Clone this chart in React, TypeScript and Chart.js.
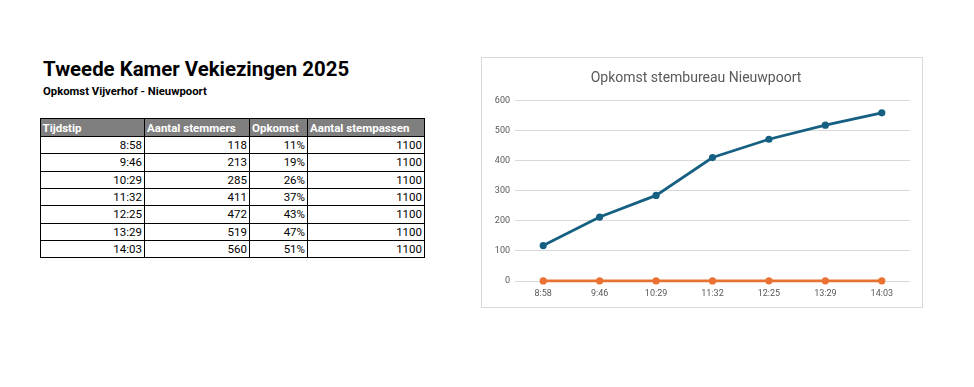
import React, { useEffect, useRef } from "react";
import { Chart, registerables } from "chart.js";

Chart.register(...registerables);

const times = ["8:58", "9:46", "10:29", "11:32", "12:25", "13:29", "14:03"];
const voters = [118, 213, 285, 411, 472, 519, 560];
const turnout = [0.11, 0.19, 0.26, 0.37, 0.43, 0.47, 0.51];
const passes = [1100, 1100, 1100, 1100, 1100, 1100, 1100];
const yTicks = [0, 100, 200, 300, 400, 500, 600];
const headers = ["Tijdstip", "Aantal stemmers", "Opkomst", "Aantal stempassen"];

const FONT = "Roboto, 'Liberation Sans', sans-serif";

function LineChart() {
  const ref = useRef<HTMLCanvasElement | null>(null);
  useEffect(() => {
    if (!ref.current) return;
    const chart = new Chart(ref.current, {
      type: "line",
      data: {
        labels: times,
        datasets: [
          {
            label: "Aantal stemmers",
            data: voters,
            borderColor: "#156082",
            backgroundColor: "#156082",
            borderWidth: 2.75,
            pointRadius: 3.6,
            pointBorderWidth: 0,
            pointHoverRadius: 3.6,
            tension: 0,
            clip: false,
          },
          {
            label: "Opkomst",
            data: turnout,
            borderColor: "#E97132",
            backgroundColor: "#E97132",
            borderWidth: 2.75,
            pointRadius: 3.6,
            pointBorderWidth: 0,
            pointHoverRadius: 3.6,
            tension: 0,
            clip: false,
          },
        ],
      },
      options: {
        animation: false,
        responsive: false,
        maintainAspectRatio: false,
        layout: { padding: { left: 0, right: 12, top: 0, bottom: 0 } },
        plugins: {
          legend: { display: false },
          tooltip: { enabled: false },
          title: {
            display: true,
            text: "Opkomst stembureau Nieuwpoort",
            color: "#595959",
            font: { family: FONT, size: 14, weight: "normal" },
            padding: { top: 12, bottom: 14 },
          },
        },
        scales: {
          x: {
            offset: true,
            grid: { display: false, drawTicks: false },
            border: { display: false },
            ticks: {
              color: "#595959",
              font: { family: FONT, size: 9 },
              padding: 7,
              maxRotation: 0,
              autoSkip: false,
            },
            afterFit: (s: any) => {
              s.height = 26;
            },
          },
          y: {
            min: 0,
            max: 600,
            afterBuildTicks: (s: any) => {
              s.ticks = yTicks.map((v) => ({ value: v }));
            },
            grid: { color: "#d9d9d9", drawTicks: false, lineWidth: 1 },
            border: { display: false },
            ticks: {
              color: "#595959",
              font: { family: FONT, size: 9 },
              padding: 5,
            },
            afterFit: (s: any) => {
              s.width = 33;
            },
          },
        },
      },
    });
    return () => chart.destroy();
  }, []);
  return <canvas ref={ref} width={440} height={249} style={{ display: "block" }} />;
}

export default function App() {
  const colW = [104.5, 105, 58, 117];
  const cell: React.CSSProperties = {
    border: "1px solid #000",
    padding: "0 2px",
    fontFamily: FONT,
    fontSize: 11.5,
    color: "#000",
    textAlign: "right",
    whiteSpace: "nowrap",
    overflow: "hidden",
  };
  const head: React.CSSProperties = {
    ...cell,
    background: "#7f7f7f",
    color: "#fff",
    fontWeight: 700,
    textAlign: "left",
  };
  return (
    <div
      style={{
        position: "fixed",
        left: 0,
        top: 0,
        width: 974,
        height: 387,
        background: "#fff",
        overflow: "hidden",
      }}
    >
      <div
        style={{
          position: "absolute",
          left: 43,
          top: 57,
          fontFamily: FONT,
          fontWeight: 700,
          fontSize: 20.4,
          color: "#000",
          whiteSpace: "nowrap",
        }}
      >
        Tweede Kamer Vekiezingen 2025
      </div>
      <div
        style={{
          position: "absolute",
          left: 43,
          top: 85,
          fontFamily: FONT,
          fontWeight: 700,
          fontSize: 11.3,
          color: "#000",
          whiteSpace: "nowrap",
        }}
      >
        Opkomst Vijverhof - Nieuwpoort
      </div>
      <table
        style={{
          position: "absolute",
          left: 39.5,
          top: 118,
          borderCollapse: "collapse",
          tableLayout: "fixed",
          width: colW.reduce((a, b) => a + b, 0),
          border: "1.5px solid #333",
        }}
      >
        <colgroup>
          {colW.map((w, i) => (
            <col key={i} style={{ width: w }} />
          ))}
        </colgroup>
        <tbody>
          <tr style={{ height: 18 }}>
            {headers.map((h) => (
              <td key={h} style={head}>
                {h}
              </td>
            ))}
          </tr>
          {times.map((t, i) => (
            <tr key={t} style={{ height: 17.33 }}>
              <td style={cell}>{t}</td>
              <td style={cell}>{voters[i]}</td>
              <td style={cell}>{Math.round(turnout[i] * 100)}%</td>
              <td style={cell}>{passes[i]}</td>
            </tr>
          ))}
        </tbody>
      </table>
      <div
        style={{
          position: "absolute",
          left: 482,
          top: 58,
          width: 440,
          height: 249,
          outline: "1px solid #d9d9d9",
        }}
      >
        <LineChart />
      </div>
    </div>
  );
}
